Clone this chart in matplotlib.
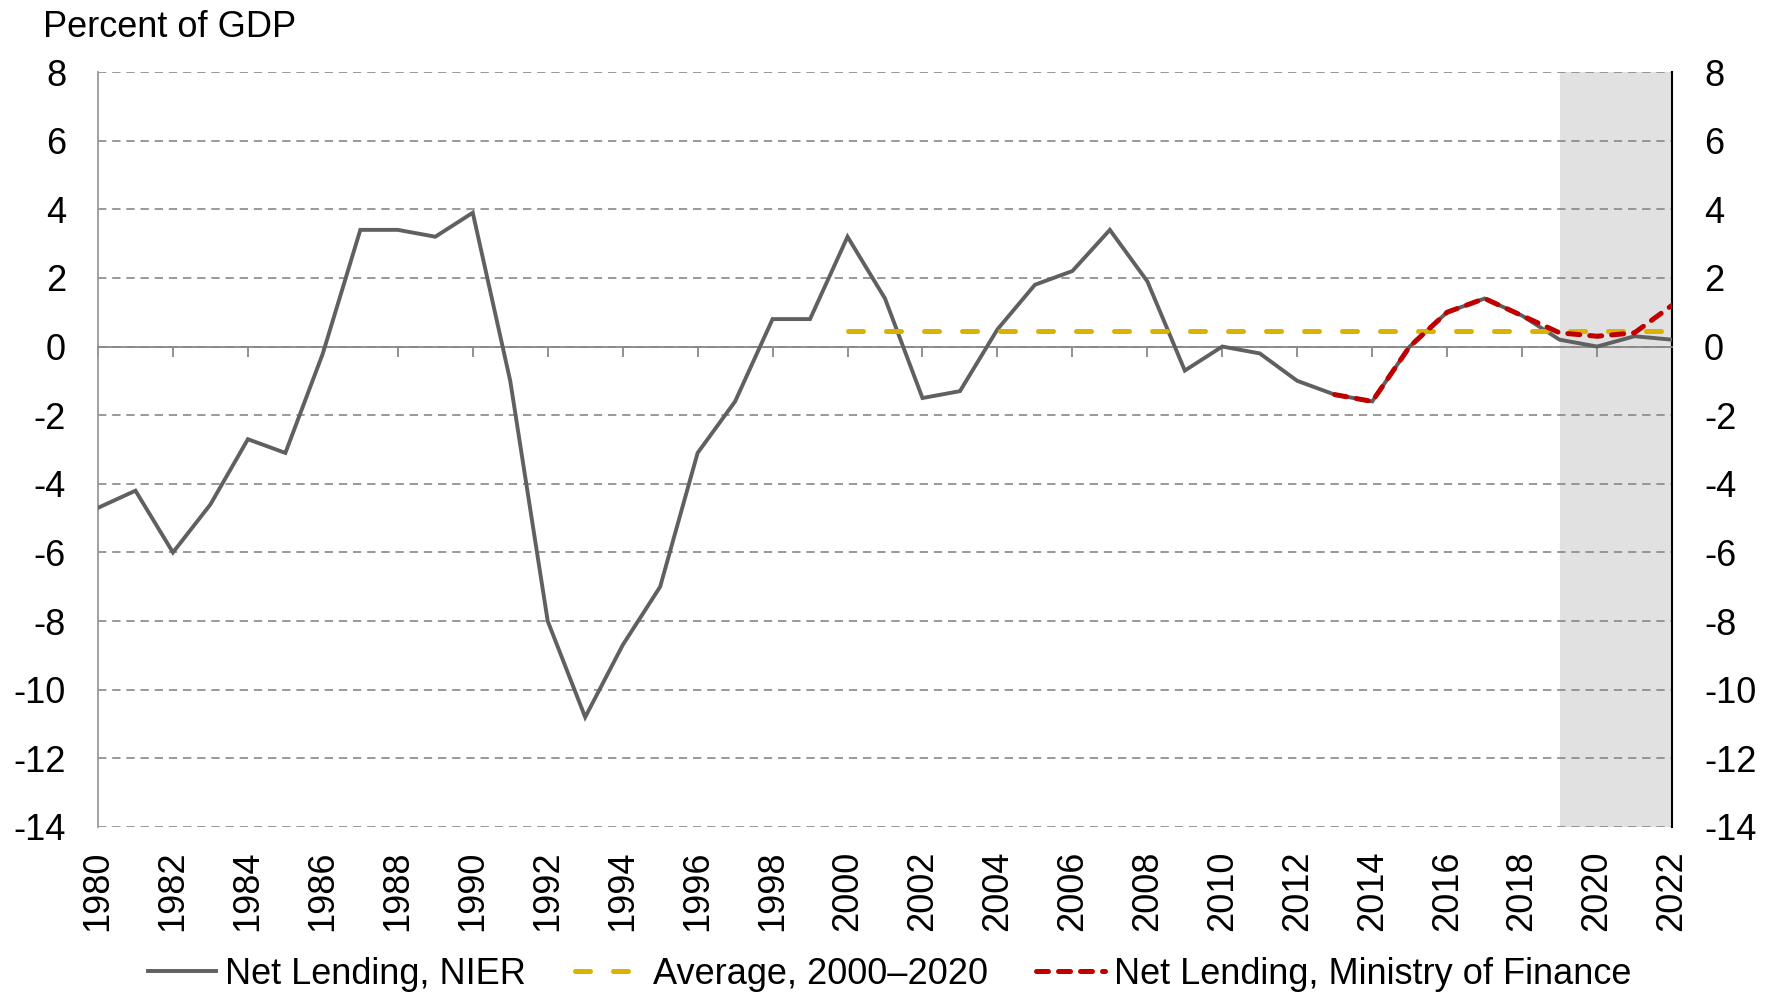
import matplotlib
matplotlib.use("Agg")
import matplotlib.pyplot as plt

plt.rcParams['font.family'] = ['Liberation Sans', 'DejaVu Sans']
plt.rcParams['axes.unicode_minus'] = False

# data
years = list(range(1980, 2023))
nier = [-4.7, -4.2, -6.0, -4.6, -2.7, -3.1, -0.2, 3.4, 3.4, 3.2,
        3.9, -1.0, -8.0, -10.8, -8.7, -7.0, -3.1, -1.6, 0.8, 0.8,
        3.2, 1.4, -1.5, -1.3, 0.5, 1.8, 2.2, 3.4, 1.9, -0.7,
        0.0, -0.2, -1.0, -1.4, -1.6, 0.0, 1.0, 1.4, 0.9, 0.2,
        0.0, 0.3, 0.2]
mof_years = list(range(2013, 2023))
mof = [-1.4, -1.6, 0.0, 1.0, 1.4, 0.9, 0.4, 0.3, 0.4, 1.2]
avg_years = [2000, 2022]
avg_value = 0.45
shade_start, shade_end = 2019, 2022
yticks = list(range(-14, 9, 2))
xticks = list(range(1980, 2023, 2))

FS = 26

fig = plt.figure(figsize=(17.79, 9.93), dpi=100)
ax = fig.add_axes([98 / 1779, 1 - 827 / 993, (1672 - 98) / 1779, (827 - 72) / 993])

ax.axvspan(shade_start, shade_end, color='#e1e1e1', zorder=0, lw=0)

ax.plot(years, nier, color='#606060', lw=2.8, zorder=3,
        label='Net Lending, NIER', solid_joinstyle='miter')
ax.plot(avg_years, [avg_value] * len(avg_years), color='#d9b300', lw=3.6,
        dashes=(3.0, 4.6), dash_capstyle='round', zorder=4,
        label='Average, 2000\u20132020')
ax.plot(mof_years, mof, color='#c00000', lw=3.6, dashes=(2.4, 2.0),
        dash_capstyle='round', zorder=5, label='Net Lending, Ministry of Finance')

ax.set_xlim(1980, 2022)
ax.set_ylim(-14, 8)
ax.set_yticks(yticks)
ax.yaxis.grid(True, color='#888888', linestyle=(0, (5, 3.5)), lw=1.2, zorder=1)
ax.set_axisbelow(True)

# zero line with year ticks, labels at the bottom
ax.spines['bottom'].set_position(('data', 0))
ax.spines['bottom'].set_color('#888888')
ax.spines['bottom'].set_linewidth(1.3)
ax.spines['top'].set_visible(False)
ax.spines['left'].set_color('#999999')
ax.spines['left'].set_linewidth(1.3)
ax.spines['right'].set_color('black')
ax.spines['right'].set_linewidth(1.5)
ax.set_xticks(xticks)
ax.tick_params(axis='x', direction='out', length=7, width=1.3, color='#888888',
               labelbottom=False)
ax.tick_params(axis='y', length=0, labelsize=FS, pad=23,
               labelleft=True, labelright=True)

sec = ax.secondary_xaxis(0)
sec.set_xticks(xticks)
sec.spines['bottom'].set_visible(False)
sec.tick_params(length=0, labelsize=FS, pad=17, labelrotation=90)

fig.text(43 / 1779, 1 - 37 / 993, 'Percent of GDP', fontsize=FS, va='baseline')

fig.legend(loc='center', bbox_to_anchor=(0.5, 1 - 974 / 993), ncol=3,
           frameon=False, fontsize=FS, handlelength=1.9, handletextpad=0.25,
           columnspacing=1.35)

fig.savefig('out.png', dpi=100)
